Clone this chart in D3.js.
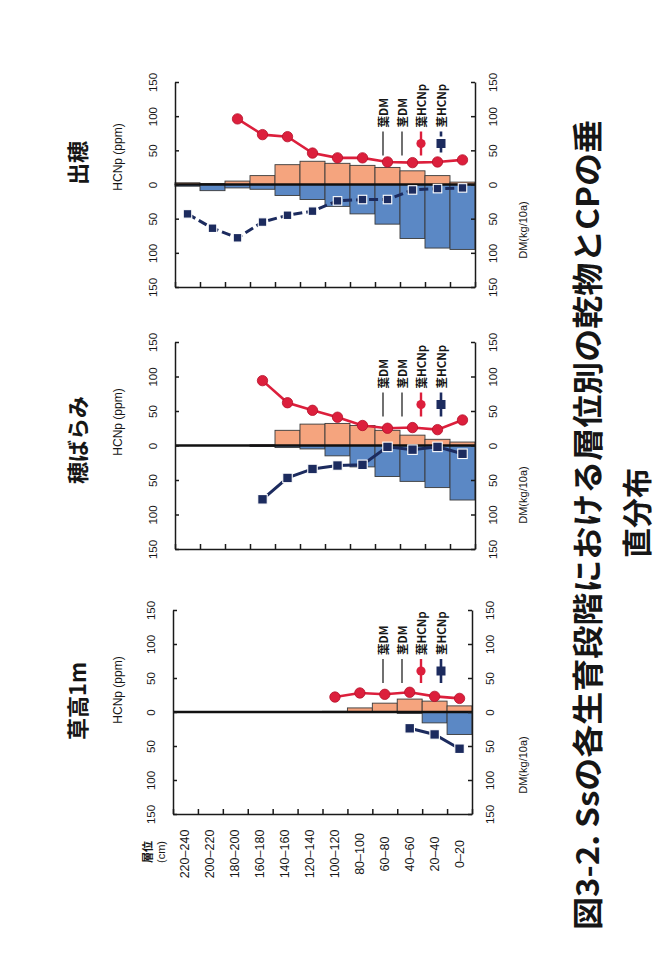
<!DOCTYPE html>
<html><head><meta charset="utf-8">
<script src="https://cdn.jsdelivr.net/npm/d3@7"></script>
<style>body{margin:0;background:#fff}</style>
</head><body>
<svg id="c" width="671" height="955"></svg>
<script>
// ---------- data ----------
const layers = ["220–240","200–220","180–200","160–180","140–160","120–140","100–120","80–100","60–80","40–60","20–40","0–20"];
const valueTicks = [150,100,50,0,-50,-100,-150];
const panelTitles = ["出穂","穂ばらみ","草高1m"];
const legendLabels = ["葉DM","茎DM","葉HCNp","茎HCNp"];
const hcnAxisLabel = "HCNp (ppm)";
const dmAxisLabel = "DM(kg/10a)";
const layerAxisLabel = "層位";
const layerAxisUnit = "(cm)";
const titleLine1 = "図3-2.  Ssの各生育段階における層位別の乾物とCPの垂";
const titleLine2 = "直分布";

// 出穂 (heading)
const headLeafDM  = [2.5, 1.5, 5, 13, 29, 34, 31, 28, 25, 20, 13, 3.5];
const headStemDM  = [2.5, 9, 5, 7, 16, 22, 32, 43, 58, 79, 93, 95];
const headLeafHCN = [null, null, 96, 73, 70, 46, 39, 39, 33, 32, 33, 36];
const headStemHCN = [43, 64, 78, 55, 45, 39, 24, 22, 22, 8, 6, 5];
// 穂ばらみ (booting)
const bootLeafDM  = [0, 0, 0, 1, 22, 31, 32, 29, 22, 15, 9, 5];
const bootStemDM  = [0, 0, 0, 1.5, 3, 5, 15, 31, 45, 52, 61, 79];
const bootLeafHCN = [null, null, null, 94, 62, 51, 41, 29, 25, 26, 23, 37];
const bootStemHCN = [null, null, null, 78, 47, 34, 29, 28, 2, 6, 2, 12];
// 草高1m (plant height 1 m)
const m1LeafDM  = [0, 0, 0, 0, 0, 0, 1, 6, 13, 19, 16, 9];
const m1StemDM  = [0, 0, 0, 0, 0, 0, 0, 0, 0, 2, 16, 33];
const m1LeafHCN = [null, null, null, null, null, null, 22, 28, 26, 29, 23, 20];
const m1StemHCN = [null, null, null, null, null, null, null, null, null, 24, 33, 54];

const panelData = [
  {leafDM: headLeafDM, stemDM: headStemDM, leafHCN: headLeafHCN, stemHCN: headStemHCN, dashed: true},
  {leafDM: bootLeafDM, stemDM: bootStemDM, leafHCN: bootLeafHCN, stemHCN: bootStemHCN, dashed: false},
  {leafDM: m1LeafDM,   stemDM: m1StemDM,   leafHCN: m1LeafHCN,   stemHCN: m1StemHCN,   dashed: false}
];

// ---------- layout & style ----------
const layout = [
  {top: 82,  bottom: 287, x0: 175, x1: 475, titleY: 163, hcnY: 157, dmY: 230},
  {top: 342, bottom: 549, x0: 175, x1: 475, titleY: 440, hcnY: 422, dmY: 495},
  {top: 610, bottom: 814, x0: 173, x1: 472, titleY: 701, hcnY: 690, dmY: 765}
];
const C = {orange: "#f5a47e", blue: "#5b88c5", edge: "#3a3a3a", red: "#dc1f3c", navy: "#1c2b5e", ink: "#161616"};
const LAT = "'Liberation Sans', Arial, 'Noto Sans CJK JP', sans-serif";
const CJK = "'Noto Sans CJK JP', 'Liberation Sans', sans-serif";

const svg = d3.select("#c");
svg.append("rect").attr("width", 671).attr("height", 955).attr("fill", "#fff");

function vtext(g, x, y, str, opt = {}) {
  return g.append("text")
    .attr("transform", `translate(${x},${y}) rotate(-90)`)
    .attr("text-anchor", opt.anchor || "middle")
    .attr("dominant-baseline", "central")
    .attr("font-family", opt.family || LAT)
    .attr("font-size", opt.size || 11)
    .attr("font-weight", opt.weight || "normal")
    .attr("fill", opt.fill || C.ink)
    .text(str);
}

panelData.forEach((pd, pi) => {
  const L = layout[pi];
  const g = svg.append("g");
  const y = d3.scaleLinear().domain([-150, 150]).range([L.bottom, L.top]);
  const band = d3.scaleBand().domain(layers).range([L.x0, L.x1]).padding(0);
  const idx = d3.scaleLinear().domain([0, layers.length]).range([L.x0, L.x1]);
  const bw = band.bandwidth();
  const cx = i => band(layers[i]) + bw / 2;

  // stem DM bars (below zero)
  g.selectAll(".sbar").data(pd.stemDM).join("rect")
    .attr("x", (d, i) => band(layers[i])).attr("width", bw)
    .attr("y", y(0)).attr("height", d => y(-d) - y(0))
    .attr("fill", C.blue).attr("stroke", C.edge).attr("stroke-width", 0.9)
    .attr("display", d => d > 0 ? null : "none");
  // leaf DM bars (above zero)
  g.selectAll(".lbar").data(pd.leafDM).join("rect")
    .attr("x", (d, i) => band(layers[i])).attr("width", bw)
    .attr("y", d => y(d)).attr("height", d => y(0) - y(d))
    .attr("fill", C.orange).attr("stroke", C.edge).attr("stroke-width", 0.9)
    .attr("display", d => d > 0 ? null : "none");

  // zero line
  g.append("line").attr("x1", L.x0).attr("x2", L.x1).attr("y1", y(0)).attr("y2", y(0))
    .attr("stroke", "#111").attr("stroke-width", 2.4);

  // axes
  const styleAxis = (ax, dx) => {
    ax.selectAll("path,line").attr("stroke", "#1a1a1a").attr("stroke-width", 1.5);
    ax.selectAll("text")
      .attr("x", null).attr("dy", null)
      .attr("transform", `translate(${dx},0) rotate(-90)`)
      .attr("text-anchor", "middle").attr("dominant-baseline", "central")
      .attr("font-family", LAT).attr("font-size", 11.5).attr("fill", C.ink);
  };
  const axL = g.append("g").attr("transform", `translate(${L.x0},0)`)
    .call(d3.axisLeft(y).tickValues(valueTicks).tickSize(-4).tickSizeOuter(0).tickFormat(d => Math.abs(d)));
  styleAxis(axL, -22);
  const axR = g.append("g").attr("transform", `translate(${L.x1},0)`)
    .call(d3.axisRight(y).tickValues(valueTicks).tickSize(-4).tickSizeOuter(0).tickFormat(d => Math.abs(d)));
  styleAxis(axR, 18);
  const axB = g.append("g").attr("transform", `translate(0,${L.bottom})`)
    .call(d3.axisBottom(idx).tickValues(d3.range(layers.length + 1)).tickSize(-5).tickSizeOuter(0).tickFormat(""));
  axB.selectAll("path,line").attr("stroke", "#1a1a1a").attr("stroke-width", 1.5);

  // leaf HCNp line
  const leafPts = pd.leafHCN.map((v, i) => v == null ? null : {x: cx(i), v});
  g.append("path").datum(leafPts).attr("d", d3.line().defined(d => d != null).x(d => d.x).y(d => y(d.v)))
    .attr("fill", "none").attr("stroke", C.red).attr("stroke-width", 2.6);
  g.selectAll(".rc").data(leafPts.filter(d => d)).join("circle")
    .attr("cx", d => d.x).attr("cy", d => y(d.v)).attr("r", 5.2)
    .attr("fill", C.red).attr("stroke", "#b5102a").attr("stroke-width", 0.8);

  // stem HCNp line
  const stemPts = pd.stemHCN.map((v, i) => v == null ? null : {x: cx(i), v: -v});
  g.append("path").datum(stemPts).attr("d", d3.line().defined(d => d != null).x(d => d.x).y(d => y(d.v)))
    .attr("fill", "none").attr("stroke", C.navy).attr("stroke-width", 3)
    .attr("stroke-dasharray", pd.dashed ? "9,4" : null);
  const sq = pi === 0 ? 8.5 : 9.5;
  g.selectAll(".sq").data(stemPts.filter(d => d)).join("rect")
    .attr("x", d => d.x - sq / 2).attr("y", d => y(d.v) - sq / 2)
    .attr("width", sq).attr("height", sq)
    .attr("fill", C.navy).attr("stroke", "#fff").attr("stroke-width", 1.1);

  // legend
  const z = y(0);
  const lx = [383, 402, 421, 441];
  const lTop = z - 53, lBot = z - 29, lMid = (lTop + lBot) / 2;
  legendLabels.forEach((t, k) => {
    vtext(g, lx[k], z - 57, t, {anchor: "start", size: 11.5, weight: "bold", family: CJK});
  });
  g.append("line").attr("x1", lx[0]).attr("x2", lx[0]).attr("y1", lTop).attr("y2", lBot).attr("stroke", "#111").attr("stroke-width", 1.2);
  g.append("line").attr("x1", lx[1]).attr("x2", lx[1]).attr("y1", lTop).attr("y2", lBot).attr("stroke", "#111").attr("stroke-width", 1.2);
  g.append("line").attr("x1", lx[2]).attr("x2", lx[2]).attr("y1", lTop).attr("y2", lBot).attr("stroke", C.red).attr("stroke-width", 2.4);
  g.append("circle").attr("cx", lx[2]).attr("cy", lMid).attr("r", 4.6).attr("fill", C.red);
  g.append("line").attr("x1", lx[3]).attr("x2", lx[3]).attr("y1", lTop).attr("y2", lBot).attr("stroke", C.navy).attr("stroke-width", 2.6)
    .attr("stroke-dasharray", pd.dashed ? "5,3" : null);
  g.append("rect").attr("x", lx[3] - 4.5).attr("y", lMid - 4.5).attr("width", 9).attr("height", 9).attr("fill", C.navy);

  // panel texts
  vtext(g, 76, L.titleY, panelTitles[pi], {size: 22, weight: "bold", family: CJK});
  vtext(g, 118, L.hcnY, hcnAxisLabel, {size: 12});
  vtext(g, 523, L.dmY, dmAxisLabel, {size: 11});

  // layer labels under the last panel
  if (pi === layout.length - 1) {
    layers.forEach((l, i) => vtext(g, cx(i), 854, l, {size: 12.5}));
    vtext(g, 147, 852, layerAxisLabel, {size: 11, weight: "bold", family: CJK});
    vtext(g, 161, 852, layerAxisUnit, {size: 11});
  }
});

// figure title
vtext(svg, 585, 930, titleLine1, {anchor: "start", size: 31, weight: "bold", family: CJK})
  .attr("textLength", 810).attr("lengthAdjust", "spacingAndGlyphs");
vtext(svg, 635, 513, titleLine2, {size: 30, weight: "bold", family: CJK});
</script>
</body></html>
